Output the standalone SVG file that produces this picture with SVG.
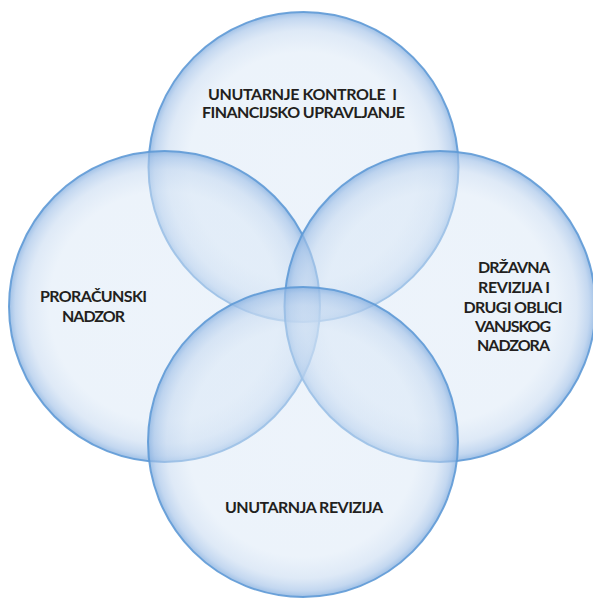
<svg xmlns="http://www.w3.org/2000/svg" width="593" height="598" viewBox="0 0 593 598">
  <defs>
    <radialGradient id="bubble" cx="0.5" cy="0.5" r="0.5">
      <stop offset="0" stop-color="#dbe8f7" stop-opacity="0.5"/>
      <stop offset="0.74" stop-color="#d9e7f6" stop-opacity="0.5"/>
      <stop offset="0.88" stop-color="#c4d8f0" stop-opacity="0.55"/>
      <stop offset="0.96" stop-color="#a3c2e8" stop-opacity="0.65"/>
      <stop offset="1" stop-color="#86b0e0" stop-opacity="0.8"/>
    </radialGradient>
    <style>
      .c { fill: url(#bubble); stroke: #5f9ad6; stroke-width: 2; stroke-opacity: 0.9; }
      .t { font-family: Lato, "Open Sans", "Liberation Sans", sans-serif; font-weight: bold; font-size: 16px; fill: #231f20; text-anchor: middle; }
    </style>
  </defs>
  <rect width="593" height="598" fill="#ffffff"/>
  <g id="node-top">
    <circle class="c" cx="303.5" cy="167" r="155"/>
    <text class="t" x="302.5" y="100" xml:space="preserve" textLength="189">UNUTARNJE KONTROLE  I</text>
    <text class="t" x="303.5" y="118" textLength="203">FINANCIJSKO UPRAVLJANJE</text>
  </g>
  <g id="node-left">
    <circle class="c" cx="164.5" cy="306.5" r="155.5"/>
    <text class="t" x="93.5" y="302" textLength="107">PRORAČUNSKI</text>
    <text class="t" x="93.5" y="322" textLength="63">NADZOR</text>
  </g>
  <g id="node-right">
    <circle class="c" cx="440" cy="306.5" r="155.5"/>
    <text class="t" x="514" y="273" textLength="72">DRŽAVNA</text>
    <text class="t" x="514" y="293" textLength="72">REVIZIJA I</text>
    <text class="t" x="513" y="313" textLength="99">DRUGI OBLICI</text>
    <text class="t" x="513" y="332" textLength="76">VANJSKOG</text>
    <text class="t" x="513.5" y="351" textLength="73">NADZORA</text>
  </g>
  <g id="node-bottom">
    <circle class="c" cx="303" cy="442" r="155"/>
    <text class="t" x="304" y="513" textLength="158">UNUTARNJA REVIZIJA</text>
  </g>
  <g id="connectors"/>
</svg>
